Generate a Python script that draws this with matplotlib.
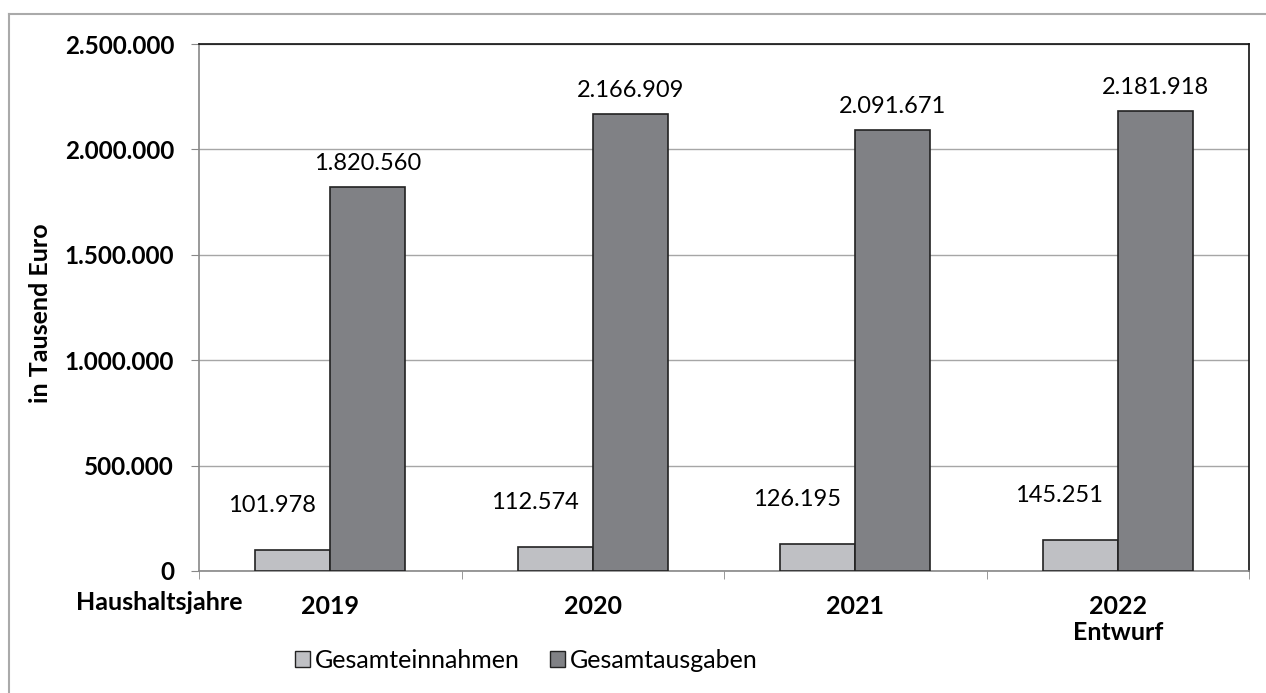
import matplotlib.pyplot as plt
import numpy as np
from matplotlib.lines import Line2D
from matplotlib.patches import Patch

jahre = ['2019', '2020', '2021', '2022\nEntwurf']
einnahmen = [101978, 112574, 126195, 145251]
ausgaben = [1820560, 2166909, 2091671, 2181918]
yticks = [0, 500000, 1000000, 1500000, 2000000, 2500000]

hell = '#BFC0C4'
dunkel = '#808185'
rand = '#222222'

plt.rcParams['font.family'] = ['Lato', 'DejaVu Sans']


def fmt(v):
    return f'{v:,}'.replace(',', '.')


fig = plt.figure(figsize=(12.66, 6.93), dpi=100)
ax = fig.add_axes([199 / 1266, 1 - 571 / 693, 1050 / 1266, 527 / 693])

x = np.arange(len(jahre))
w = 0.2857
b1 = ax.bar(x - w / 2, einnahmen, w, color=hell, edgecolor=rand, linewidth=1.2, zorder=3)
b2 = ax.bar(x + w / 2, ausgaben, w, color=dunkel, edgecolor=rand, linewidth=1.2, zorder=3)

for r, v in zip(b1, einnahmen):
    ax.annotate(fmt(v), (r.get_x() + r.get_width() / 2, v), xytext=(-15, 32),
                textcoords='offset points', ha='center', va='center', fontsize=17)
for r, v in zip(b2, ausgaben):
    ax.annotate(fmt(v), (r.get_x() + r.get_width() / 2, v), xytext=(0, 17),
                textcoords='offset points', ha='center', va='center', fontsize=17)

ax.set_xlim(-0.5, len(jahre) - 0.5)
ax.set_ylim(0, 2500000)
ax.set_yticks(yticks)
ax.set_yticklabels([fmt(v) for v in yticks], fontsize=17.5, fontweight='bold')
ax.tick_params(axis='y', length=6, color='#888888', pad=12)
ax.set_xticks(x)
ax.set_xticklabels(jahre, fontsize=18, fontweight='bold', linespacing=1.2)
ax.set_xticks(np.arange(-0.5, len(jahre)), minor=True)
ax.tick_params(axis='x', which='major', length=0, pad=17)
ax.tick_params(axis='x', which='minor', length=6, color='#888888')
for lab in ax.get_xticklabels():
    lab.set_verticalalignment('top')

ax.grid(axis='y', color='#A6A6A6', linewidth=1, zorder=0)
ax.spines['left'].set_color('#888888')
ax.spines['bottom'].set_color('#888888')
ax.spines['top'].set_color('#111111')
ax.spines['right'].set_color('#111111')
for s in ax.spines.values():
    s.set_linewidth(1.2)

ax.set_ylabel('in Tausend Euro', fontsize=18, fontweight='bold')
ax.yaxis.set_label_coords(-0.14, 0.49)
fig.text(159 / 1266, 1 - 603 / 693, 'Haushaltsjahre', fontsize=18, fontweight='bold',
         ha='center', va='center')

handles = [Patch(facecolor=hell, edgecolor=rand, label='Gesamteinnahmen'),
           Patch(facecolor=dunkel, edgecolor=rand, label='Gesamtausgaben')]
fig.legend(handles=handles, loc='center', bbox_to_anchor=(526 / 1266, 1 - 660 / 693),
           ncol=2, frameon=False, fontsize=18, handlelength=0.6, handleheight=0.6,
           handletextpad=0.2, columnspacing=1.2)

fig.add_artist(Line2D([9 / 1266, 9 / 1266], [0, 1 - 14 / 693], color='#AAAAAA', linewidth=1.5))
fig.add_artist(Line2D([9 / 1266, 1], [1 - 14 / 693, 1 - 14 / 693], color='#AAAAAA', linewidth=1.5))

fig.savefig('out.png', dpi=100)
